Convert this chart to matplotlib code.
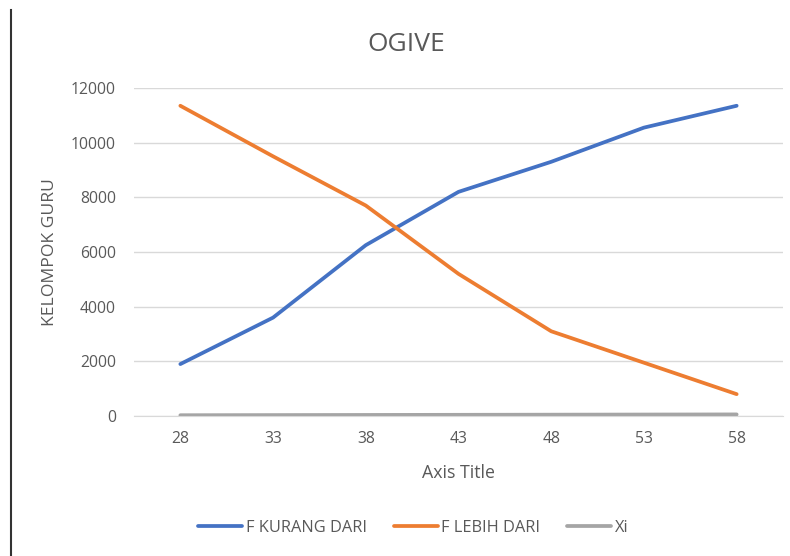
import matplotlib
matplotlib.use("Agg")
import matplotlib.pyplot as plt
from matplotlib.lines import Line2D

# Class midpoints and cumulative frequencies
categories = ["28", "33", "38", "43", "48", "53", "58"]
xi_values = [28, 33, 38, 43, 48, 53, 58]
f_kurang_dari = [1900, 3600, 6250, 8200, 9300, 10550, 11350]
f_lebih_dari = [11350, 9500, 7700, 5200, 3100, 1950, 800]
y_ticks = [0, 2000, 4000, 6000, 8000, 10000, 12000]

plt.rcParams['font.family'] = ['Open Sans', 'DejaVu Sans']
text_color = "#595959"

W, H = 790, 556
fig = plt.figure(figsize=(W / 100, H / 100), dpi=100)
ax_l, ax_r, ax_b, ax_t = 134, 783, 416, 88
ax = fig.add_axes([ax_l / W, 1 - ax_b / H, (ax_r - ax_l) / W, (ax_b - ax_t) / H])

x = list(range(len(categories)))
ax.plot(x, f_kurang_dari, color="#4472C4", lw=2.7, label="F KURANG DARI", solid_capstyle="round")
ax.plot(x, f_lebih_dari, color="#ED7D31", lw=2.7, label="F LEBIH DARI", solid_capstyle="round")
ax.plot(x, xi_values, color="#A5A5A5", lw=2.7, label="Xi", solid_capstyle="round")

ax.set_xlim(-0.5, len(categories) - 0.5)
ax.set_ylim(0, 12000)
ax.set_xticks(x)
ax.set_xticklabels(categories)
ax.set_yticks(y_ticks)
ax.set_yticklabels([str(v) for v in y_ticks])
ax.grid(axis="y", color="#D9D9D9", lw=1)
ax.set_axisbelow(True)
for side in ["top", "right", "left"]:
    ax.spines[side].set_visible(False)
ax.spines["bottom"].set_color("#D9D9D9")
ax.tick_params(axis="both", length=0, colors=text_color, labelsize=11.3)
ax.tick_params(axis="x", pad=11)
ax.tick_params(axis="y", pad=13)

ax.set_title("OGIVE", color=text_color, fontsize=19, x=(406 - ax_l) / (ax_r - ax_l),
             y=(ax_b - 44.5) / (ax_b - ax_t), pad=0, va="center")
ax.set_xlabel("Axis Title", color=text_color, fontsize=12.8, va="center")
ax.xaxis.set_label_coords(0.5, (ax_b - 473) / (ax_b - ax_t))
ax.set_ylabel("KELOMPOK GURU", color=text_color, fontsize=12.6, va="center")
ax.yaxis.set_label_coords((50 - ax_l) / (ax_r - ax_l), 0.5)

fig.legend(loc="center left", bbox_to_anchor=(198 / W, 1 - 528 / H), ncol=3, frameon=False,
           fontsize=11.8, labelcolor=text_color, handlelength=2.7, handletextpad=0.2,
           columnspacing=1.65, borderpad=0, borderaxespad=0)

# Frame edge on the left
fig.add_artist(Line2D([11 / W, 11 / W], [0, 1 - 10 / H], color="#333333", lw=1.5))

fig.savefig("out.png", dpi=100)
